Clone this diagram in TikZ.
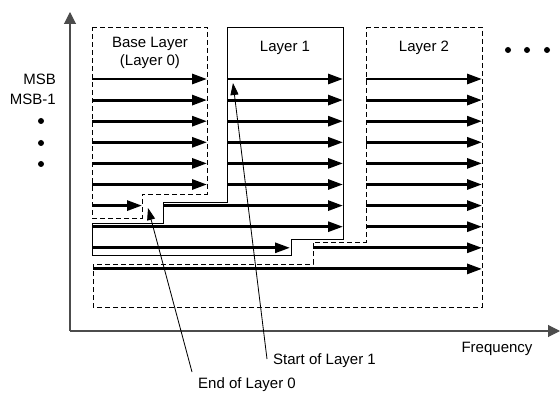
\documentclass[tikz,border=0pt]{standalone}
\usepackage{fontspec}
\setmainfont{Liberation Sans}
\usetikzlibrary{arrows.meta, positioning}

\begin{document}
\begin{tikzpicture}[
  x=0.03cm, y=-0.03cm,
  font=\fontsize{12.8}{15.4}\selectfont,
  axis/.style={draw=black!70, line width=0.9pt, -{Triangle[length=0.36cm, width=0.36cm]}},
  bitrow/.style={line width=2.4pt, -{Triangle[length=0.45cm, width=0.3cm]}},
  layerbox/.style={line width=0.8pt},
  dashedbox/.style={layerbox, dash pattern=on 0.15cm off 0.09cm},
  pointer/.style={line width=0.7pt, -{Triangle[length=0.36cm, width=0.24cm]}},
  dot/.style={circle, fill, inner sep=0pt, minimum size=0.18cm},
  lbl/.style={inner sep=0pt, align=center}
]
\useasboundingbox (0,0) rectangle (560,402);

% =========================
% Axes
% =========================
\coordinate (origin) at (70,331);
\coordinate (ytop) at (70,12);
\coordinate (xend) at (560,331);
\draw[axis] (origin) -- (ytop);
\draw[axis] (origin) -- (xend);
\node[lbl] (freq) at (497,349) {Frequency};

% bit-plane labels
\node[lbl, anchor=east] (msb) at (56,79) {MSB};
\node[lbl, anchor=east] (msb1) at (56,99.5) {MSB-1};
\foreach \ry [count=\k] in {121,143,164}
  \node[dot] (vdot\k) at (41,\ry) {};

% =========================
% Layer outlines
% =========================
\draw[dashedbox] (92,27) -- (207,27) -- (207,194) -- (142,194)
  -- (142,218) -- (92,218) -- cycle;
\draw[layerbox] (227,27) -- (343,27) -- (343,239) -- (291,239) -- (291,255)
  -- (92,255) -- (92,223) -- (163,223) -- (163,202) -- (227,202) -- cycle;
\draw[dashedbox] (366,27) -- (482,27) -- (482,307) -- (93,307)
  -- (93,264) -- (313,264) -- (313,242) -- (366,242) -- cycle;

\node[lbl] (base) at (150,53) {Base Layer\\(Layer 0)};
\node[lbl] (lay1) at (285,48) {Layer 1};
\node[lbl] (lay2) at (424,48) {Layer 2};
\foreach \rx [count=\k] in {508,527,547}
  \node[dot] (hdot\k) at (\rx,50) {};

% =========================
% Bit-plane rows
% =========================
\foreach \i [evaluate=\i as \ry using 57.9+21.1*\i] in {1,...,6} {
  \draw[bitrow] (92,\ry) -- (207,\ry);
  \draw[bitrow] (227,\ry) -- (343,\ry);
}
\foreach \i [evaluate=\i as \ry using 57.9+21.1*\i] in {1,...,8}
  \draw[bitrow] (366,\ry) -- (482,\ry);
\foreach \i/\xa/\xb [evaluate=\i as \ry using 57.9+21.1*\i]
  in {7/92/142, 7/163/343, 8/92/343, 9/92/290, 9/313/482, 10/93/482}
  \draw[bitrow] (\xa,\ry) -- (\xb,\ry);

% =========================
% Annotations
% =========================
\coordinate (l1start) at (233,83);
\coordinate (l0end) at (148,208);
\node[lbl, anchor=west] (startl1) at (273,361) {Start of Layer 1};
\node[lbl, anchor=west] (endl0) at (198,385) {End of Layer 0};
\draw[pointer] ([shift={(-6,-2)}]startl1.west) -- (l1start);
\draw[pointer] ([shift={(-6,-13)}]endl0.west) -- (l0end);

\end{tikzpicture}
\end{document}
